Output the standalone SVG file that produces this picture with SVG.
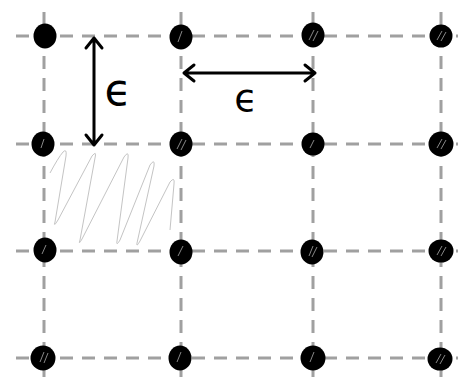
<svg xmlns="http://www.w3.org/2000/svg" width="458" height="386" viewBox="0 0 458 386">
<style>
.grid{stroke:#a0a0a0;stroke-width:3;stroke-dasharray:13 9;fill:none}
.dot{fill:#000}
.hl{stroke:#888;stroke-width:1;fill:none}
.arr{stroke:#000;stroke-width:3;fill:none;stroke-linecap:round;stroke-linejoin:round}
.lbl{font-family:"DejaVu Sans",sans-serif;fill:#000}
.hatch{stroke:#c4c4c4;stroke-width:1;fill:none;stroke-linejoin:round}
</style>
<rect width="458" height="386" fill="#fff"/>
<g id="connectors">
<line class="grid" x1="16" y1="36" x2="458" y2="36"/>
<line class="grid" x1="16" y1="144" x2="458" y2="144"/>
<line class="grid" x1="16" y1="251" x2="458" y2="251"/>
<line class="grid" x1="16" y1="358" x2="458" y2="358"/>
<line class="grid" x1="44" y1="12" x2="44" y2="386"/>
<line class="grid" x1="181" y1="12" x2="181" y2="386"/>
<line class="grid" x1="313" y1="12" x2="313" y2="386"/>
<line class="grid" x1="441" y1="12" x2="441" y2="386"/>
<path class="hatch" d="M50,173 Q58,158 63,152 Q67,148 66,156 L55,222 Q53,228 58,220 L92,156 Q97,150 95,158 L80,240 Q78,246 82,239 L124,157 Q129,150 128,158 L117,241 Q116,247 120,240 L150,165 Q155,158 154,166 L137,243 Q136,248 140,241 L170,182 Q175,176 174,184 L170,230"/>
<path class="arr" d="M94,38 L94,145 M86,48 L94,38 L102,48 M86,135 L94,145 L102,135"/>
<path class="arr" d="M184,73 L315,73 M194,65 L184,73 L194,81 M305,65 L315,73 L305,81"/>
</g>
<g id="labels">
<text class="lbl" x="118" y="105" font-size="44" text-anchor="middle">ϵ</text>
<text class="lbl" x="246" y="111" font-size="38" text-anchor="middle">ϵ</text>
</g>
<g id="dots">
<g id="d11"><ellipse class="dot" cx="45" cy="36" rx="11.5" ry="12.5"/></g>
<g id="d12"><ellipse class="dot" cx="181" cy="37" rx="11.5" ry="12.5"/><path class="hl" d="M178,42 L182,31"/></g>
<g id="d13"><ellipse class="dot" cx="313" cy="35" rx="11.5" ry="12.5"/><path class="hl" d="M309,40 L314,30 M313,41 L318,31"/></g>
<g id="d14"><ellipse class="dot" cx="441" cy="36" rx="11.5" ry="11.5"/><path class="hl" d="M437,40 L442,31 M441,41 L446,32"/></g>
<g id="d21"><ellipse class="dot" cx="43" cy="144" rx="11.5" ry="12.5"/><path class="hl" d="M41,148 L44,139"/></g>
<g id="d22"><ellipse class="dot" cx="181" cy="144" rx="11.5" ry="12.5"/><path class="hl" d="M177,149 L182,139 M181,150 L186,140"/></g>
<g id="d23"><ellipse class="dot" cx="313" cy="144" rx="11.5" ry="11.5"/><path class="hl" d="M310,148 L314,140"/></g>
<g id="d24"><ellipse class="dot" cx="441" cy="144" rx="12.5" ry="12.5"/><path class="hl" d="M437,148 L442,139 M441,149 L446,140"/></g>
<g id="d31"><ellipse class="dot" cx="45" cy="250" rx="11.5" ry="12.5"/><path class="hl" d="M42,254 L46,245"/></g>
<g id="d32"><ellipse class="dot" cx="181" cy="252" rx="11.5" ry="12.5"/><path class="hl" d="M178,256 L183,246"/></g>
<g id="d33"><ellipse class="dot" cx="312" cy="252" rx="11.5" ry="12.5"/><path class="hl" d="M309,256 L313,246 M312,257 L317,247"/></g>
<g id="d34"><ellipse class="dot" cx="441" cy="251" rx="12.5" ry="11.5"/><path class="hl" d="M437,255 L442,246 M441,256 L446,247"/></g>
<g id="d41"><ellipse class="dot" cx="43" cy="358" rx="12.5" ry="12.5"/><path class="hl" d="M40,362 L44,352 M44,363 L48,353"/></g>
<g id="d42"><ellipse class="dot" cx="180" cy="358" rx="11.5" ry="12.5"/><path class="hl" d="M177,362 L181,352"/></g>
<g id="d43"><ellipse class="dot" cx="313" cy="358" rx="12.5" ry="12.5"/><path class="hl" d="M310,362 L314,352"/></g>
<g id="d44"><ellipse class="dot" cx="440" cy="359" rx="12.5" ry="11.5"/><path class="hl" d="M436,363 L441,354 M440,364 L445,355"/></g>
</g>
</svg>
